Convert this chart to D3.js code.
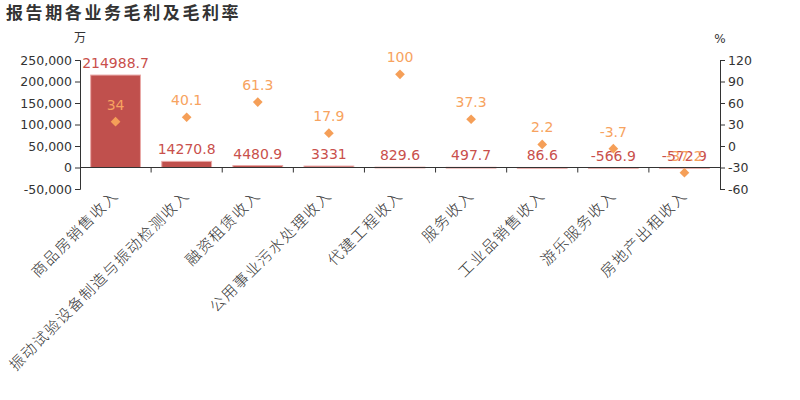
<!DOCTYPE html>
<html>
<head>
<meta charset="utf-8">
<script src="https://cdn.jsdelivr.net/npm/d3@7"></script>
<style>
  body { margin: 0; background: #fff; }
  text { font-family: "DejaVu Sans", sans-serif; }
</style>
</head>
<body>
<div id="chart"></div>
<script>
// data
var categories = ["商品房销售收入", "振动试验设备制造与振动检测收入", "融资租赁收入", "公用事业污水处理收入",
  "代建工程收入", "服务收入", "工业品销售收入", "游乐服务收入", "房地产出租收入"]
var grossProfit = [214988.7, 14270.8, 4480.9, 3331, 829.6, 497.7, 86.6, -566.9, -572.9]
var grossMargin = [34, 40.1, 61.3, 17.9, 100, 37.3, 2.2, -3.7, -37.2]
var leftTicks = [-50000, 0, 50000, 100000, 150000, 200000, 250000]
var rightTicks = [-60, -30, 0, 30, 60, 90, 120]

var width = 800
var height = 400
var margin = { left: 80, right: 80, top: 60 }
var plotBottom = 189

var locale = d3.formatLocale({ decimal: ".", thousands: ",", grouping: [3], currency: ["", ""], minus: "-" })

var svg = d3.select("#chart")
  .append("svg")
  .attr("width", width)
  .attr("height", height)

// title
svg.append("text")
  .attr("x", 6)
  .attr("y", 19)
  .attr("fill", "#333")
  .style("font-family", "'Noto Sans CJK SC', sans-serif")
  .style("font-weight", "bold")
  .style("font-size", "17px")
  .style("letter-spacing", "2.6px")
  .text("报告期各业务毛利及毛利率")

var x = d3.scaleBand()
  .domain(categories)
  .range([margin.left, width - margin.right])
  .paddingInner(0.3)
  .paddingOuter(0.15)

var xb = d3.scaleBand()
  .domain(categories)
  .range([margin.left, width - margin.right])

var yL = d3.scaleLinear()
  .domain([-50000, 250000])
  .range([plotBottom, margin.top])
var yR = d3.scaleLinear()
  .domain([-60, 120])
  .range([plotBottom, margin.top])

// left axis
var gl = svg.append("g")
  .attr("transform", "translate(" + margin.left + ",0)")
  .call(d3.axisLeft(yL).tickValues(leftTicks).tickSize(5).tickFormat(locale.format(",")))
gl.selectAll("text").style("font-size", "12.5px").attr("fill", "#333")
gl.selectAll("line, path").attr("stroke", "#333")

// right axis
var gr = svg.append("g")
  .attr("transform", "translate(" + (width - margin.right) + ",0)")
  .call(d3.axisRight(yR).tickValues(rightTicks).tickSize(5).tickFormat(locale.format("d")))
gr.selectAll("text").style("font-size", "12.5px").attr("fill", "#333")
gr.selectAll("line, path").attr("stroke", "#333")

// units
svg.append("text").attr("x", margin.left).attr("y", 42).attr("text-anchor", "middle")
  .attr("fill", "#333").style("font-size", "12px")
  .style("font-family", "'Noto Sans CJK SC', sans-serif").text("万")
svg.append("text").attr("x", width - margin.right).attr("y", 43).attr("text-anchor", "middle")
  .attr("fill", "#333").style("font-size", "12px").text("%")

// bars
svg.selectAll("rect.bar")
  .data(grossProfit)
  .enter()
  .append("rect")
  .attr("class", "bar")
  .attr("x", function (d, i) { return x(categories[i]) })
  .attr("width", x.bandwidth())
  .attr("y", function (d) { return yL(Math.max(d, 0)) })
  .attr("height", function (d) { return Math.max(Math.abs(yL(d) - yL(0)), 0.8) })
  .attr("fill", "#c0504d")
  .attr("stroke", "#e9a9a7")
  .attr("stroke-width", 1)

// x axis
var gx = svg.append("g")
  .attr("transform", "translate(0," + yL(0) + ")")
gx.append("line")
  .attr("x1", margin.left).attr("x2", width - margin.right)
  .attr("stroke", "#333")
gx.selectAll("line.tick")
  .data(categories.slice(1))
  .enter()
  .append("line")
  .attr("x1", function (d) { return xb(d) }).attr("x2", function (d) { return xb(d) })
  .attr("y1", 0).attr("y2", 5)
  .attr("stroke", "#333")
gx.selectAll("text")
  .data(categories)
  .enter()
  .append("text")
  .attr("transform", function (d) {
    return "translate(" + (xb(d) + xb.bandwidth() / 2 + 4) + "," + 29 + ") rotate(-45)"
  })
  .attr("text-anchor", "end")
  .attr("fill", "#333")
  .style("font-family", "'Noto Sans CJK SC', serif")
  .style("font-weight", "300")
  .style("font-size", "15px")
  .style("letter-spacing", "1.5px")
  .text(function (d) { return d })

// bar labels
svg.selectAll("text.barlabel")
  .data(grossProfit)
  .enter()
  .append("text")
  .attr("class", "barlabel")
  .attr("x", function (d, i) { return x(categories[i]) + x.bandwidth() / 2 })
  .attr("y", function (d) { return yL(Math.max(d, 0)) - 7 })
  .attr("text-anchor", "middle")
  .attr("fill", "#c9504c")
  .style("font-size", "14px")
  .text(function (d) { return d })

// margin diamonds
svg.selectAll("path.dot")
  .data(grossMargin)
  .enter()
  .append("path")
  .attr("class", "dot")
  .attr("d", d3.symbol().type(d3.symbolDiamond2).size(60))
  .attr("transform", function (d, i) {
    return "translate(" + (x(categories[i]) + x.bandwidth() / 2) + "," + yR(d) + ")"
  })
  .attr("fill", "#f59f58")

svg.selectAll("text.ratelabel")
  .data(grossMargin)
  .enter()
  .append("text")
  .attr("class", "ratelabel")
  .attr("x", function (d, i) { return x(categories[i]) + x.bandwidth() / 2 })
  .attr("y", function (d) { return yR(d) - 12 })
  .attr("text-anchor", "middle")
  .attr("fill", "#f7a360")
  .style("font-size", "14px")
  .text(function (d) { return d })
</script>
</body>
</html>
